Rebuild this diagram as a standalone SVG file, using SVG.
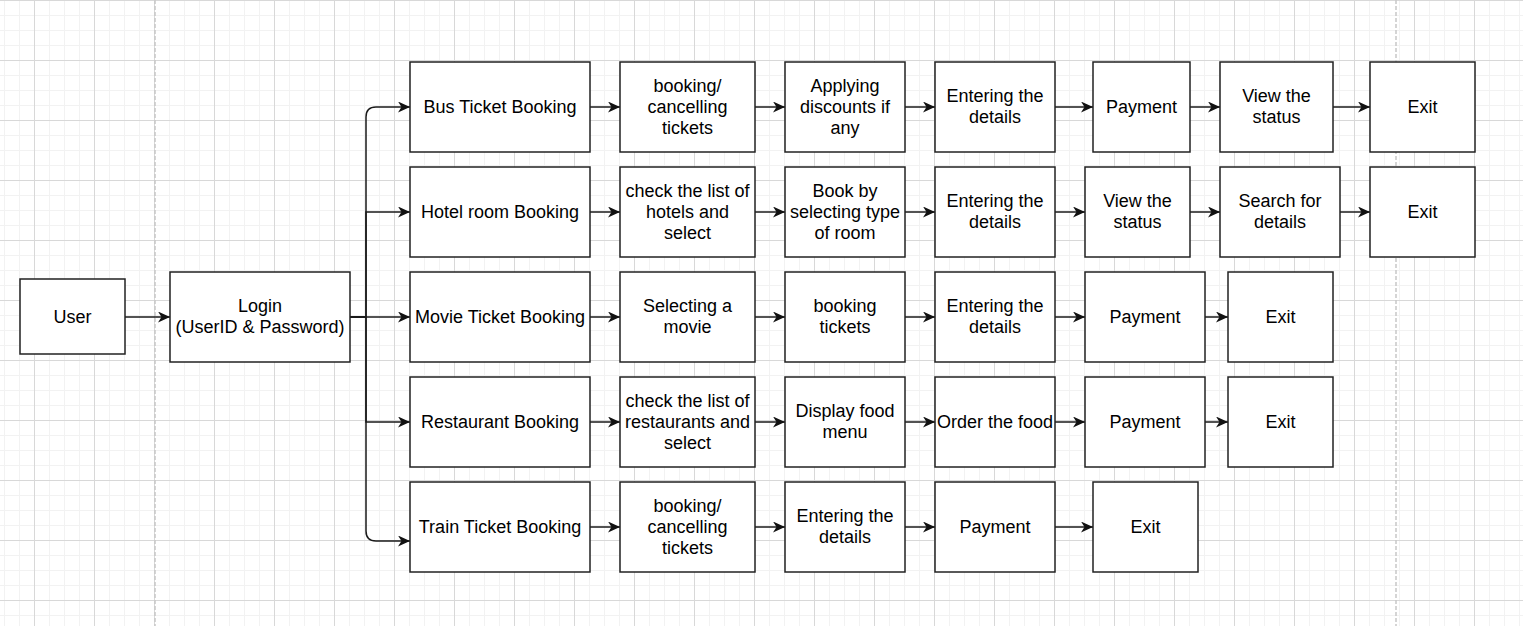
<svg xmlns="http://www.w3.org/2000/svg" width="1523" height="626" viewBox="0 0 1523 626">
<style>
.b{fill:#ffffff;stroke:#222222;stroke-width:1.5}
.t{font-family:"Liberation Sans",Arial,sans-serif;font-size:18px;fill:#000000;text-anchor:middle}
.e{fill:none;stroke:#1a1a1a;stroke-width:1.5}
.pb{stroke:#c8c8c8;stroke-width:1.5;stroke-dasharray:4 2}
</style>
<defs>
<pattern id="grid" patternUnits="userSpaceOnUse" x="34" y="0" width="60" height="60">
<path d="M15.5 0V60M30.5 0V60M45.5 0V60M0 15.5H60M0 30.5H60M0 45.5H60" stroke="#f2f2f2" stroke-width="1" fill="none"/>
<path d="M0.5 0V60M0 0.5H60" stroke="#d8d8d8" stroke-width="1" fill="none"/>
</pattern>
<marker id="arr" markerUnits="userSpaceOnUse" markerWidth="13" markerHeight="12" refX="12" refY="5.5" orient="auto">
<path d="M0 0L12 5.5L0 11L3.5 5.5Z" fill="#111111"/>
</marker>
</defs>
<rect width="1523" height="626" fill="#ffffff"/>
<rect width="1523" height="626" fill="url(#grid)"/>
<line class="pb" x1="155" y1="0" x2="155" y2="626"/>
<line class="pb" x1="1396" y1="0" x2="1396" y2="626"/>

<g id="connectors">
<path class="e" d="M125 317H170" marker-end="url(#arr)"/>
<path class="e" d="M350 317H366V117Q366 107 376 107H410" marker-end="url(#arr)"/>
<path class="e" d="M350 317H366V212H410" marker-end="url(#arr)"/>
<path class="e" d="M350 317H410" marker-end="url(#arr)"/>
<path class="e" d="M350 317H366V422H410" marker-end="url(#arr)"/>
<path class="e" d="M350 317H366V531Q366 541 376 541H410" marker-end="url(#arr)"/>
<!-- row 1 -->
<path class="e" d="M590 107H620" marker-end="url(#arr)"/>
<path class="e" d="M755 107H785" marker-end="url(#arr)"/>
<path class="e" d="M905 107H935" marker-end="url(#arr)"/>
<path class="e" d="M1055 107H1093" marker-end="url(#arr)"/>
<path class="e" d="M1190 107H1220" marker-end="url(#arr)"/>
<path class="e" d="M1333 107H1370" marker-end="url(#arr)"/>
<!-- row 2 -->
<path class="e" d="M590 212H620" marker-end="url(#arr)"/>
<path class="e" d="M755 212H785" marker-end="url(#arr)"/>
<path class="e" d="M905 212H935" marker-end="url(#arr)"/>
<path class="e" d="M1055 212H1085" marker-end="url(#arr)"/>
<path class="e" d="M1190 212H1220" marker-end="url(#arr)"/>
<path class="e" d="M1340 212H1370" marker-end="url(#arr)"/>
<!-- row 3 -->
<path class="e" d="M590 317H620" marker-end="url(#arr)"/>
<path class="e" d="M755 317H785" marker-end="url(#arr)"/>
<path class="e" d="M905 317H935" marker-end="url(#arr)"/>
<path class="e" d="M1055 317H1085" marker-end="url(#arr)"/>
<path class="e" d="M1205 317H1228" marker-end="url(#arr)"/>
<!-- row 4 -->
<path class="e" d="M590 422H620" marker-end="url(#arr)"/>
<path class="e" d="M755 422H785" marker-end="url(#arr)"/>
<path class="e" d="M905 422H935" marker-end="url(#arr)"/>
<path class="e" d="M1055 422H1085" marker-end="url(#arr)"/>
<path class="e" d="M1205 422H1228" marker-end="url(#arr)"/>
<!-- row 5 -->
<path class="e" d="M590 527H620" marker-end="url(#arr)"/>
<path class="e" d="M755 527H785" marker-end="url(#arr)"/>
<path class="e" d="M905 527H935" marker-end="url(#arr)"/>
<path class="e" d="M1055 527H1093" marker-end="url(#arr)"/>
</g>

<g id="user"><rect class="b" x="20" y="279" width="105" height="75"/><text class="t" x="72.5" y="323.3">User</text></g>
<g id="login"><rect class="b" x="170" y="272" width="180" height="90"/><text class="t" x="260" y="311.8">Login</text><text class="t" x="260" y="332.8">(UserID &amp; Password)</text></g>

<g id="bus"><rect class="b" x="410" y="62" width="180" height="90"/><text class="t" x="500" y="113.3">Bus Ticket Booking</text></g>
<g id="bus-book"><rect class="b" x="620" y="62" width="135" height="90"/><text class="t" x="687.5" y="92.3">booking/</text><text class="t" x="687.5" y="113.3">cancelling</text><text class="t" x="687.5" y="134.3">tickets</text></g>
<g id="bus-disc"><rect class="b" x="785" y="62" width="120" height="90"/><text class="t" x="845" y="92.3">Applying</text><text class="t" x="845" y="113.3">discounts if</text><text class="t" x="845" y="134.3">any</text></g>
<g id="bus-details"><rect class="b" x="935" y="62" width="120" height="90"/><text class="t" x="995" y="101.8">Entering the</text><text class="t" x="995" y="122.8">details</text></g>
<g id="bus-pay"><rect class="b" x="1093" y="62" width="97" height="90"/><text class="t" x="1141.5" y="113.3">Payment</text></g>
<g id="bus-status"><rect class="b" x="1220" y="62" width="113" height="90"/><text class="t" x="1276.5" y="101.8">View the</text><text class="t" x="1276.5" y="122.8">status</text></g>
<g id="bus-exit"><rect class="b" x="1370" y="62" width="105" height="90"/><text class="t" x="1422.5" y="113.3">Exit</text></g>

<g id="hotel"><rect class="b" x="410" y="167" width="180" height="90"/><text class="t" x="500" y="218.3">Hotel room Booking</text></g>
<g id="hotel-list"><rect class="b" x="620" y="167" width="135" height="90"/><text class="t" x="687.5" y="197.3">check the list of</text><text class="t" x="687.5" y="218.3">hotels and</text><text class="t" x="687.5" y="239.3">select</text></g>
<g id="hotel-room"><rect class="b" x="785" y="167" width="120" height="90"/><text class="t" x="845" y="197.3">Book by</text><text class="t" x="845" y="218.3">selecting type</text><text class="t" x="845" y="239.3">of room</text></g>
<g id="hotel-details"><rect class="b" x="935" y="167" width="120" height="90"/><text class="t" x="995" y="206.8">Entering the</text><text class="t" x="995" y="227.8">details</text></g>
<g id="hotel-status"><rect class="b" x="1085" y="167" width="105" height="90"/><text class="t" x="1137.5" y="206.8">View the</text><text class="t" x="1137.5" y="227.8">status</text></g>
<g id="hotel-search"><rect class="b" x="1220" y="167" width="120" height="90"/><text class="t" x="1280" y="206.8">Search for</text><text class="t" x="1280" y="227.8">details</text></g>
<g id="hotel-exit"><rect class="b" x="1370" y="167" width="105" height="90"/><text class="t" x="1422.5" y="218.3">Exit</text></g>

<g id="movie"><rect class="b" x="410" y="272" width="180" height="90"/><text class="t" x="500" y="323.3">Movie Ticket Booking</text></g>
<g id="movie-select"><rect class="b" x="620" y="272" width="135" height="90"/><text class="t" x="687.5" y="311.8">Selecting a</text><text class="t" x="687.5" y="332.8">movie</text></g>
<g id="movie-book"><rect class="b" x="785" y="272" width="120" height="90"/><text class="t" x="845" y="311.8">booking</text><text class="t" x="845" y="332.8">tickets</text></g>
<g id="movie-details"><rect class="b" x="935" y="272" width="120" height="90"/><text class="t" x="995" y="311.8">Entering the</text><text class="t" x="995" y="332.8">details</text></g>
<g id="movie-pay"><rect class="b" x="1085" y="272" width="120" height="90"/><text class="t" x="1145" y="323.3">Payment</text></g>
<g id="movie-exit"><rect class="b" x="1228" y="272" width="105" height="90"/><text class="t" x="1280.5" y="323.3">Exit</text></g>

<g id="rest"><rect class="b" x="410" y="377" width="180" height="90"/><text class="t" x="500" y="428.3">Restaurant Booking</text></g>
<g id="rest-list"><rect class="b" x="620" y="377" width="135" height="90"/><text class="t" x="687.5" y="407.3">check the list of</text><text class="t" x="687.5" y="428.3">restaurants and</text><text class="t" x="687.5" y="449.3">select</text></g>
<g id="rest-menu"><rect class="b" x="785" y="377" width="120" height="90"/><text class="t" x="845" y="416.8">Display food</text><text class="t" x="845" y="437.8">menu</text></g>
<g id="rest-order"><rect class="b" x="935" y="377" width="120" height="90"/><text class="t" x="995" y="428.3">Order the food</text></g>
<g id="rest-pay"><rect class="b" x="1085" y="377" width="120" height="90"/><text class="t" x="1145" y="428.3">Payment</text></g>
<g id="rest-exit"><rect class="b" x="1228" y="377" width="105" height="90"/><text class="t" x="1280.5" y="428.3">Exit</text></g>

<g id="train"><rect class="b" x="410" y="482" width="180" height="90"/><text class="t" x="500" y="533.3">Train Ticket Booking</text></g>
<g id="train-book"><rect class="b" x="620" y="482" width="135" height="90"/><text class="t" x="687.5" y="512.3">booking/</text><text class="t" x="687.5" y="533.3">cancelling</text><text class="t" x="687.5" y="554.3">tickets</text></g>
<g id="train-details"><rect class="b" x="785" y="482" width="120" height="90"/><text class="t" x="845" y="521.8">Entering the</text><text class="t" x="845" y="542.8">details</text></g>
<g id="train-pay"><rect class="b" x="935" y="482" width="120" height="90"/><text class="t" x="995" y="533.3">Payment</text></g>
<g id="train-exit"><rect class="b" x="1093" y="482" width="105" height="90"/><text class="t" x="1145.5" y="533.3">Exit</text></g>
</svg>
